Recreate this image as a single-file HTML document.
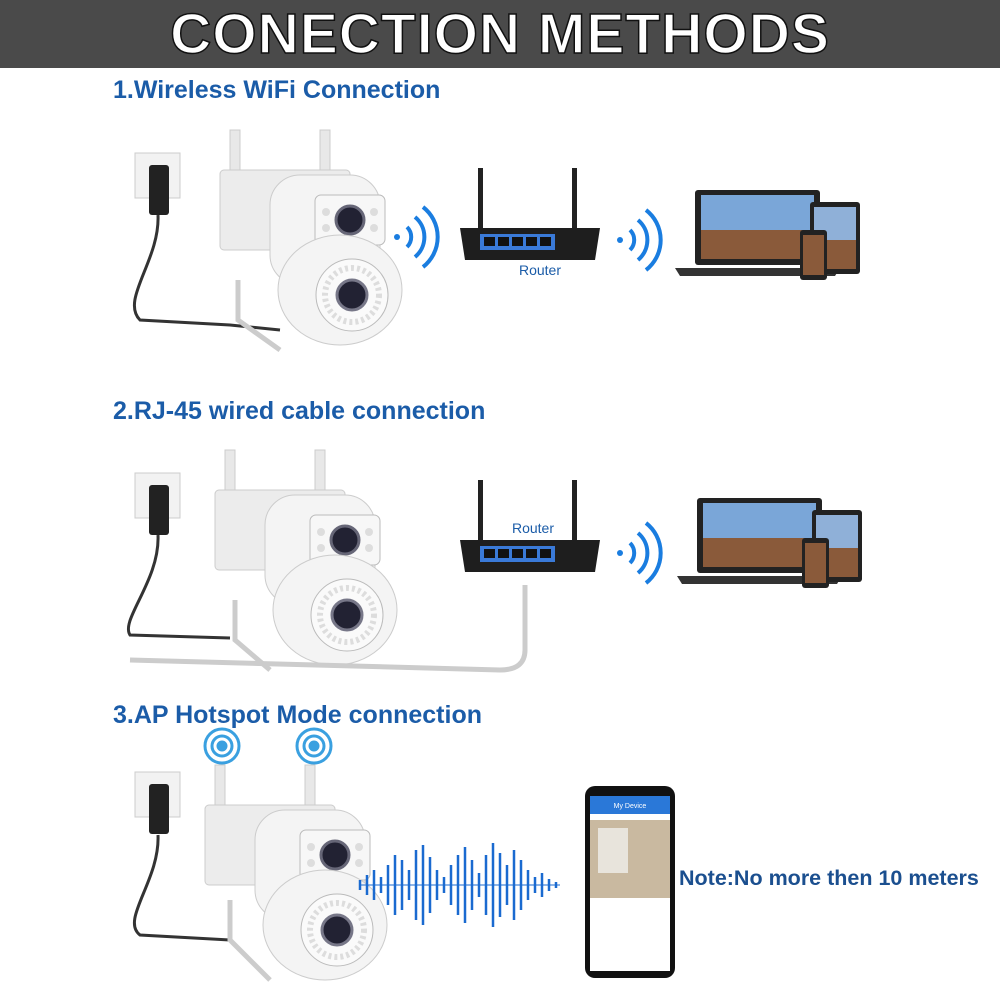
<!DOCTYPE html>
<html><head><meta charset="utf-8"><style>
body{margin:0;width:1000px;height:1000px;background:#fff;position:relative;overflow:hidden;font-family:"Liberation Sans",Arial,sans-serif}
.hdr{position:absolute;left:0;top:0;width:1000px;height:68px;background:#4a4a4a;color:#fff;font-weight:bold;font-size:57px;text-align:center;line-height:68px;letter-spacing:1px;-webkit-text-stroke:1.5px #111}
.h{position:absolute;left:113px;color:#1b5ca8;font-weight:bold;font-size:25px}
.abs{position:absolute}
.note{position:absolute;left:679px;top:866px;color:#1b4f8f;font-weight:bold;font-size:21.5px}
</style></head><body>
<div class="hdr">CONECTION METHODS</div>
<div class="h" style="top:76px">1.Wireless WiFi Connection</div>
<div class="h" style="top:397px">2.RJ-45 wired cable connection</div>
<div class="h" style="top:701px">3.AP Hotspot Mode connection</div>

<svg class="abs" style="left:0;top:0" width="1000" height="1000">
<defs>
<g id="cam">
 <rect x="0" y="0" width="10" height="50" fill="#e8e8e8" stroke="#ccc"/>
 <rect x="90" y="0" width="10" height="40" fill="#e8e8e8" stroke="#ccc"/>
 <rect x="-10" y="40" width="130" height="80" fill="#ececec" stroke="#ccc" rx="4"/>
 <rect x="40" y="45" width="110" height="110" rx="30" fill="#f4f4f4" stroke="#ccc"/>
 <rect x="85" y="65" width="70" height="50" rx="6" fill="#f7f7f7" stroke="#bbb"/>
 <circle cx="120" cy="90" r="14" fill="#223" stroke="#667" stroke-width="3"/>
 <circle cx="96" cy="82" r="4" fill="#ddd"/><circle cx="96" cy="98" r="4" fill="#ddd"/>
 <circle cx="144" cy="82" r="4" fill="#ddd"/><circle cx="144" cy="98" r="4" fill="#ddd"/>
 <ellipse cx="110" cy="160" rx="62" ry="55" fill="#f4f4f4" stroke="#ccc"/>
 <circle cx="122" cy="165" r="36" fill="#fafafa" stroke="#bbb"/>
 <circle cx="122" cy="165" r="27" fill="none" stroke="#ddd" stroke-width="6" stroke-dasharray="3 3"/>
 <circle cx="122" cy="165" r="15" fill="#223" stroke="#778" stroke-width="3"/>
</g>
<g id="plug">
 <rect x="0" y="0" width="45" height="45" fill="#f2f2f2" stroke="#ccc"/>
 <rect x="14" y="12" width="20" height="50" rx="3" fill="#222"/>
</g>
<g id="wifi" fill="none" stroke="#1a7de0" stroke-width="4">
 <circle cx="0" cy="0" r="3" fill="#1a7de0" stroke="none"/>
 <path d="M10 -10 A14 14 0 0 1 10 10"/>
 <path d="M18 -20 A26 26 0 0 1 18 20"/>
 <path d="M26 -30 A38 38 0 0 1 26 30"/>
</g>
<g id="router">
 <rect x="18" y="0" width="5" height="60" fill="#222"/><rect x="112" y="0" width="5" height="60" fill="#222"/>
 <path d="M0 60 L140 60 L135 92 L5 92 Z" fill="#1e1e1e"/>
 <rect x="20" y="66" width="75" height="16" fill="#3a7ad8"/>
 <g fill="#111"><rect x="24" y="69" width="11" height="9"/><rect x="38" y="69" width="11" height="9"/><rect x="52" y="69" width="11" height="9"/><rect x="66" y="69" width="11" height="9"/><rect x="80" y="69" width="11" height="9"/></g>
</g>
<g id="laptop">
 <rect x="20" y="0" width="125" height="75" fill="#222" rx="3"/>
 <rect x="26" y="5" width="113" height="64" fill="#7aa6d8"/>
 <rect x="26" y="40" width="113" height="29" fill="#8a5a3a"/>
 <path d="M0 78 L165 78 L160 86 L5 86 Z" fill="#333"/>
 <rect x="135" y="12" width="50" height="72" rx="3" fill="#222"/>
 <rect x="139" y="17" width="42" height="62" fill="#8fb0d8"/>
 <rect x="139" y="50" width="42" height="29" fill="#8a5a3a"/>
 <rect x="125" y="40" width="27" height="50" rx="3" fill="#222"/>
 <rect x="128" y="45" width="21" height="40" fill="#8a5a3a"/>
</g>
</defs>

<use href="#plug" x="135" y="153"/>
<use href="#cam" x="230" y="130"/>
<path d="M158 215 C160 260 120 300 140 320 L230 325 L280 330" fill="none" stroke="#333" stroke-width="3"/>
<path d="M238 280 L238 320 L280 350" fill="none" stroke="#ccc" stroke-width="5"/>
<use href="#wifi" x="397" y="237"/>
<use href="#router" x="460" y="168"/>
<text x="540" y="275" fill="#1b5ca8" font-size="14" text-anchor="middle">Router</text>
<use href="#wifi" x="620" y="240"/>
<use href="#laptop" x="675" y="190"/>

<use href="#plug" x="135" y="473"/>
<use href="#cam" x="225" y="450"/>
<path d="M158 535 C160 580 120 620 130 635 L230 638" fill="none" stroke="#333" stroke-width="3"/>
<path d="M130 660 L500 670 Q525 670 525 650 L525 585" fill="none" stroke="#ccc" stroke-width="5"/>
<path d="M235 600 L235 640 L270 670" fill="none" stroke="#ccc" stroke-width="5"/>
<use href="#router" x="460" y="480"/>
<text x="533" y="533" fill="#1b5ca8" font-size="14" text-anchor="middle">Router</text>
<use href="#wifi" x="620" y="553"/>
<use href="#laptop" x="677" y="498"/>

<use href="#plug" x="135" y="772"/>
<use href="#cam" x="215" y="765"/>
<path d="M158 835 C160 880 120 920 140 935 L230 940" fill="none" stroke="#333" stroke-width="3"/>
<path d="M230 900 L230 940 L270 980" fill="none" stroke="#ccc" stroke-width="5"/>
<g fill="none" stroke="#3aa0e0" stroke-width="3">
<circle cx="222" cy="746" r="17"/><circle cx="222" cy="746" r="10"/><circle cx="222" cy="746" r="4" fill="#3aa0e0"/>
<circle cx="314" cy="746" r="17"/><circle cx="314" cy="746" r="10"/><circle cx="314" cy="746" r="4" fill="#3aa0e0"/>
</g>
<path d="M360 885 L560 885" stroke="#1a6ad0" stroke-width="1"/>
<rect x="585" y="786" width="90" height="192" rx="10" fill="#111"/>
<rect x="590" y="796" width="80" height="175" fill="#fff"/>
<rect x="590" y="796" width="80" height="18" fill="#2a78d8"/>
<text x="630" y="808" fill="#fff" font-size="7" text-anchor="middle">My Device</text>
<rect x="590" y="820" width="80" height="78" fill="#c9b9a0"/>
<rect x="598" y="828" width="30" height="45" fill="#e8e4dc"/>
</svg>
<svg class="abs" style="left:355px;top:835px" width="210" height="100" stroke="#1a6ad0" stroke-width="2.5">
<line x1="5" y1="45" x2="5" y2="55"/><line x1="12" y1="40" x2="12" y2="60"/><line x1="19" y1="35" x2="19" y2="65"/><line x1="26" y1="42" x2="26" y2="58"/><line x1="33" y1="30" x2="33" y2="70"/><line x1="40" y1="20" x2="40" y2="80"/><line x1="47" y1="25" x2="47" y2="75"/><line x1="54" y1="35" x2="54" y2="65"/><line x1="61" y1="15" x2="61" y2="85"/><line x1="68" y1="10" x2="68" y2="90"/><line x1="75" y1="22" x2="75" y2="78"/><line x1="82" y1="35" x2="82" y2="65"/><line x1="89" y1="42" x2="89" y2="58"/><line x1="96" y1="30" x2="96" y2="70"/><line x1="103" y1="20" x2="103" y2="80"/><line x1="110" y1="12" x2="110" y2="88"/><line x1="117" y1="25" x2="117" y2="75"/><line x1="124" y1="38" x2="124" y2="62"/><line x1="131" y1="20" x2="131" y2="80"/><line x1="138" y1="8" x2="138" y2="92"/><line x1="145" y1="18" x2="145" y2="82"/><line x1="152" y1="30" x2="152" y2="70"/><line x1="159" y1="15" x2="159" y2="85"/><line x1="166" y1="25" x2="166" y2="75"/><line x1="173" y1="35" x2="173" y2="65"/><line x1="180" y1="42" x2="180" y2="58"/><line x1="187" y1="38" x2="187" y2="62"/><line x1="194" y1="44" x2="194" y2="56"/><line x1="201" y1="47" x2="201" y2="53"/>
</svg>
<div class="note">Note:No more then 10 meters</div>
</body></html>
